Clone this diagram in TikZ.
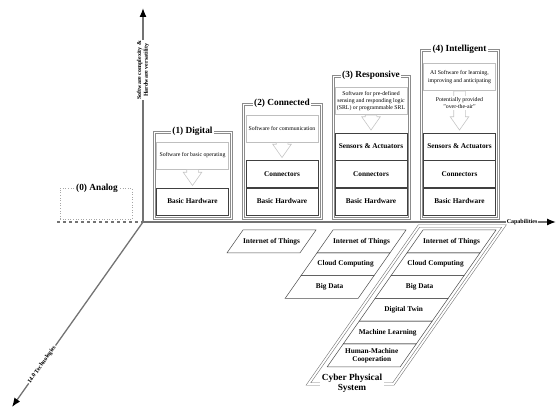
\documentclass[tikz,border=0pt]{standalone}
\usepackage{fontspec}
\setmainfont{Liberation Serif}
\usepackage{tikz}
\usetikzlibrary{arrows.meta}
\usetikzlibrary{shapes.arrows}

\tikzset{
	axis/.style={draw=black!55, line width=1.3pt},
	axislabel/.style={fill=white, inner sep=1pt, align=center, font=\fontsize{6}{6.6}\selectfont\bfseries},
	stageline/.style={draw=black!45, line width=0.45pt},
	stagebox/.style={draw=black!55, double=white, double distance=1.8pt, line width=0.55pt},
	stagetitle/.style={fill=white, inner sep=1.5pt, align=center, font=\fontsize{9.3}{9.8}\selectfont\bfseries},
	layer/.style={draw=black!75, line width=0.5pt, minimum width=72pt, minimum height=27pt, inner sep=0pt, font=\fontsize{7.3}{8}\selectfont\bfseries},
	softbox/.style={draw=gray!50, line width=0.5pt, minimum width=72pt, minimum height=27pt, inner sep=1pt, align=center, font=\fontsize{5.8}{7.3}\selectfont},
	swarrow/.style={single arrow, draw=gray!45, line width=0.6pt, rotate=-90, anchor=tail, inner xsep=0pt, inner ysep=5.5pt, single arrow head extend=3.5pt, single arrow tip angle=70},
	techrow/.style={draw=black!70, line width=0.5pt},
	techlabel/.style={inner sep=0pt, align=center, font=\fontsize{7.3}{8}\selectfont\bfseries}
}

\begin{document}
\begin{tikzpicture}[x=10pt, y=10pt]
	\useasboundingbox (0,0) rectangle (55.7,40.9);

	% axes
	\coordinate (O) at (14.3,18.7);
	\coordinate (ytip) at (14.3,40.1);
	\coordinate (xtip) at (55.6,18.7);
	\coordinate (ztip) at (1.2,0.2);
	\coordinate (dashend) at (5.7,18.7);

	\draw[axis, -{Latex[black, length=9pt, width=7pt]}] (O) -- node[axislabel, rotate=90, pos=0.71] (ylab) {Software complexity \&\\Hardware versatility} (ytip);
	\draw[axis, -{Latex[black, length=9pt, width=7pt]}] (O) -- node[axislabel, pos=0.918] (xlab) {Capabilities} (xtip);
	\draw[axis, -{Latex[black, length=9pt, width=7pt]}] (O) -- node[axislabel, rotate=54.7, pos=0.77] (zlab) {I4.0 Technologies} (ztip);
	\draw[axis, dashed] (dashend) -- (O);

	% (0) analog
	\draw[gray!70, dotted, line width=0.6pt] (6.0,19.0) rectangle (13.2,22.1);
	\node[stagetitle] (t0) at (9.7,22.1) {(0) Analog};

	% stage frames, two lines each
	\foreach \xa/\xb/\ytop in {15.3/23.2/27.8, 24.2/32.2/30.6, 33.2/41.0/33.4, 42.0/49.9/36.0}{
		\draw[stageline] (\xa,19.0) rectangle (\xb,\ytop);
		\draw[stageline] (\xa+0.2,19.2) rectangle (\xb-0.2,\ytop-0.2);
	}

	% (1) digital
	\node[stagetitle] (t1) at (19.25,27.8) {(1) Digital};
	\node[softbox] (sw1) at (19.25,25.35) {Software for basic operating};
	\node[swarrow, minimum height=16pt] (ar1) at (sw1.south) {};
	\node[layer] (hw1) at (19.25,20.75) {Basic Hardware};

	% (2) connected
	\node[stagetitle] (t2) at (28.2,30.6) {(2) Connected};
	\node[softbox] (sw2) at (28.2,28.05) {Software for communication};
	\node[swarrow, minimum height=15pt] (ar2) at (sw2.south) {};
	\node[layer] (con2) at (28.2,23.5) {Connectors};
	\node[layer] (hw2) at (28.2,20.75) {Basic Hardware};

	% (3) responsive
	\node[stagetitle] (t3) at (37.1,33.4) {(3) Responsive};
	\node[softbox] (sw3) at (37.1,30.8) {Software for pre-defined\\sensing and responding logic\\(SRL) or programmable SRL};
	\node[swarrow, minimum height=15pt] (ar3) at (sw3.south) {};
	\node[layer] (sa3) at (37.1,26.25) {Sensors \& Actuators};
	\node[layer] (con3) at (37.1,23.5) {Connectors};
	\node[layer] (hw3) at (37.1,20.75) {Basic Hardware};

	% (4) intelligent
	\node[stagetitle] (t4) at (45.95,36.0) {(4) Intelligent};
	\node[softbox] (sw4) at (45.95,33.2) {AI Software for learning,\\improving and anticipating};
	\node[swarrow, minimum height=39pt] (ar4) at (sw4.south) {};
	\node[softbox, draw=none, fill=white, minimum width=0pt, minimum height=0pt] (ota) at (45.95,30.6) {Potentially provided\\"over-the-air"};
	\node[layer] (sa4) at (45.95,26.25) {Sensors \& Actuators};
	\node[layer] (con4) at (45.95,23.5) {Connectors};
	\node[layer] (hw4) at (45.95,20.75) {Basic Hardware};

	% technologies below the axis
	\draw[techrow] (24.3,17.9) -- ++(7.3,0) -- ++(-1.596,-2.28) -- ++(-7.3,0) -- cycle;
	\node[techlabel] (tc2-0) at ({24.3+3.65-0.798},{17.9-1.14}) {Internet of Things};

	\foreach \lbl [count=\i from 0] in {Internet of Things, Cloud Computing, Big Data}{
		\draw[techrow] ({33.3-1.596*\i},{17.9-2.28*\i}) -- ++(7.3,0) -- ++(-1.596,-2.28) -- ++(-7.3,0) -- cycle;
		\node[techlabel] (tc3-\i) at ({33.3+3.65-1.596*(\i+0.5)},{17.9-2.28*(\i+0.5)}) {\lbl};
	}

	\draw[stagebox] (41.9,18.3) -- (50.4,18.3) -- (39.34,2.5) -- (30.84,2.5) -- cycle;
	\foreach \lbl [count=\i from 0] in {Internet of Things, Cloud Computing, Big Data, Digital Twin, Machine Learning, {Human-Machine\\Cooperation}}{
		\draw[techrow] ({42.3-1.596*\i},{17.9-2.28*\i}) -- ++(7.3,0) -- ++(-1.596,-2.28) -- ++(-7.3,0) -- cycle;
		\node[techlabel] (tc4-\i) at ({42.3+3.65-1.596*(\i+0.5)},{17.9-2.28*(\i+0.5)}) {\lbl};
	}
	\node[stagetitle] (cps) at (35.2,2.55) {Cyber Physical\\System};
\end{tikzpicture}
\end{document}
